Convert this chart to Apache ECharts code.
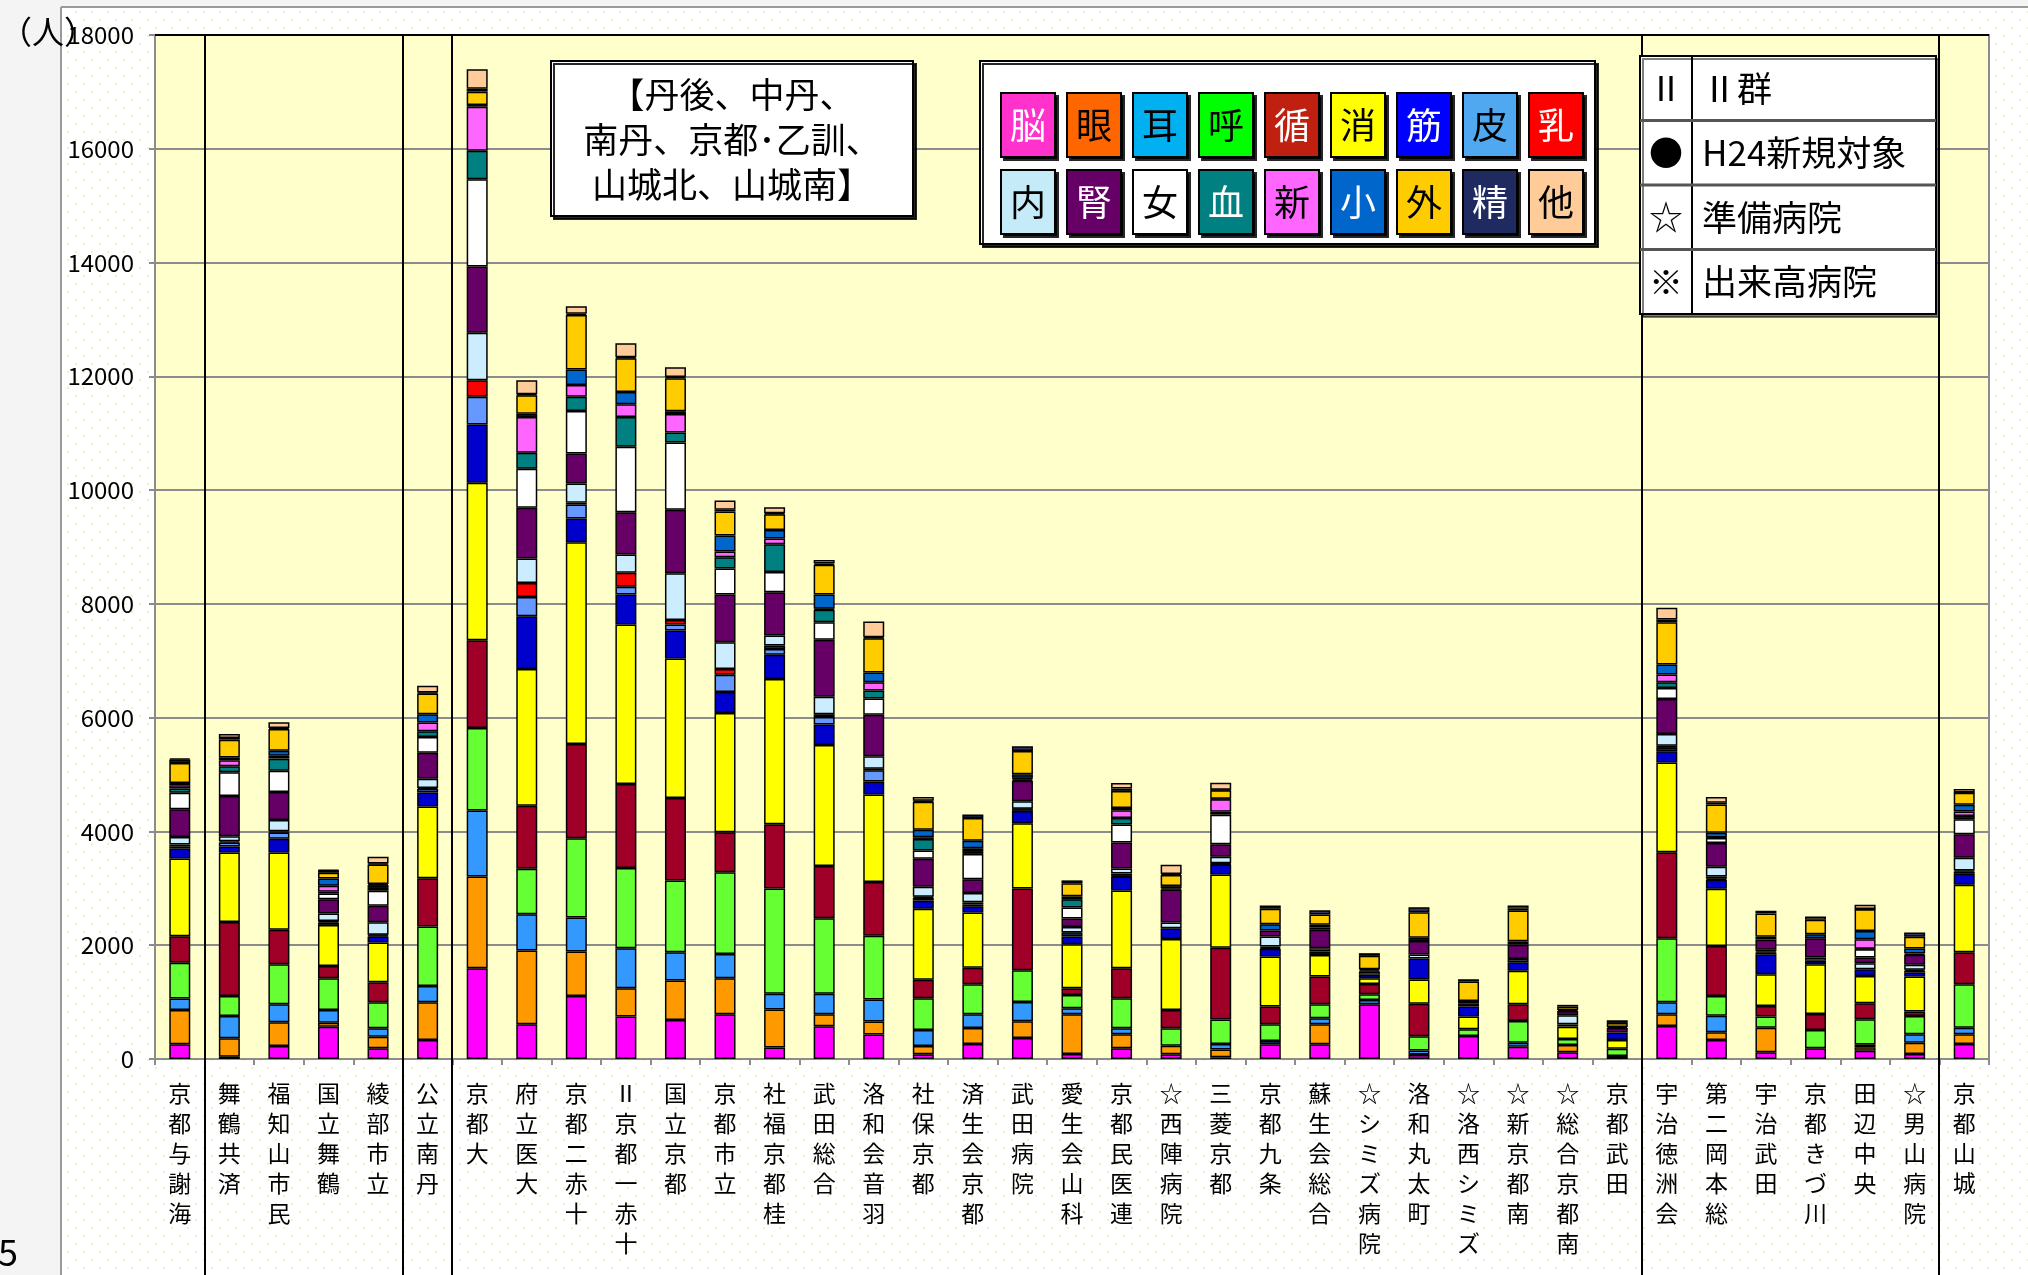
<!DOCTYPE html>
<html><head><meta charset="utf-8">
<script src="https://cdn.jsdelivr.net/npm/echarts@6/dist/echarts.min.js"></script>
<style>html,body{margin:0;padding:0;background:#f4f4f4;}#c{width:2028px;height:1275px;}</style>
</head><body><div id="c"></div>
<script>
const categories = ['京都与謝海','舞鶴共済','福知山市民','国立舞鶴','綾部市立','公立南丹','京都大','府立医大','京都二赤十','Ⅱ京都一赤十','国立京都','京都市立','社福京都桂','武田総合','洛和会音羽','社保京都','済生会京都','武田病院','愛生会山科','京都民医連','☆西陣病院','三菱京都','京都九条','蘇生会総合','☆シミズ病院','洛和丸太町','☆洛西シミズ','☆新京都南','☆総合京都南','京都武田','宇治徳洲会','第二岡本総','宇治武田','京都きづ川','田辺中央','☆男山病院','京都山城'];
const seriesNames = ['脳','眼','耳','呼','循','消','筋','皮','乳','内','腎','女','血','新','小','外','精','他'];
const yTicks = [0,2000,4000,6000,8000,10000,12000,14000,16000,18000];

const brain  = [260,40,229,569,188,334,1595,610,1108,745,686,786,203,576,432,85,262,367,88,188,82,30,258,258,962,70,405,217,117,53,581,334,117,188,147,88,264];
const eye    = [600,323,416,70,205,663,1613,1296,780,499,692,633,668,210,229,144,282,295,698,246,152,135,0,352,0,10,0,0,129,0,205,135,434,0,60,199,170];
const ear    = [205,393,317,223,147,287,1161,639,598,704,499,428,275,360,386,282,242,340,106,106,0,100,59,106,76,70,0,70,0,0,211,293,0,0,50,147,117];
const resp   = [628,352,704,557,457,1044,1449,798,1396,1408,1261,1437,1853,1329,1120,557,530,557,235,528,305,428,293,246,100,252,117,381,106,129,1126,346,194,323,440,323,762];
const circ   = [463,1302,604,217,352,850,1542,1108,1654,1478,1449,704,1126,917,943,327,288,1440,117,528,323,1261,311,487,182,569,0,293,0,0,1513,880,188,282,282,76,563];
const dige   = [1367,1220,1361,721,698,1261,2769,2405,3548,2803,2452,2094,2553,2128,1539,1244,969,1146,774,1367,1249,1290,880,381,100,428,223,592,217,152,1578,1003,557,874,481,616,1185];
const musc   = [176,106,240,40,106,246,1026,927,416,528,493,369,426,360,229,144,111,216,135,246,188,176,135,59,59,369,176,147,40,130,194,158,352,60,117,70,194];
const skin   = [40,70,111,20,20,59,487,340,246,135,106,305,105,131,196,50,30,30,59,10,0,10,20,0,0,0,0,0,0,0,60,20,30,0,0,30,40];
const breast = [30,20,20,10,10,20,287,246,30,246,80,100,60,50,30,20,40,10,10,40,0,10,20,0,0,0,0,0,0,0,40,40,20,0,0,20,20];
const intern = [135,88,199,129,223,164,839,428,340,322,821,469,177,308,216,177,164,131,100,88,100,117,176,59,59,70,0,59,158,0,205,170,30,57,106,88,223];
const kidney = [487,710,493,252,287,457,1161,891,528,745,1114,839,759,1002,733,491,242,360,147,457,580,217,106,323,20,235,60,250,76,80,616,416,176,340,100,176,411];
const women  = [287,416,375,100,264,276,1537,686,745,1150,1185,457,354,308,282,144,445,20,194,317,20,520,0,38,0,0,0,30,0,0,194,90,0,0,147,20,264];
const blood  = [76,106,211,30,50,100,499,282,252,522,176,200,491,216,144,203,50,20,147,117,0,50,0,0,0,0,0,0,0,0,100,10,0,0,10,0,59];
const neonat = [59,106,50,106,50,152,774,628,205,223,323,100,98,20,144,30,50,10,10,135,0,220,0,0,0,0,0,0,0,0,135,0,0,0,164,0,80];
const child  = [40,50,88,129,20,147,30,60,276,217,50,282,151,249,170,131,131,65,40,40,40,10,111,50,20,60,40,30,20,20,176,80,50,70,147,90,117];
const surg   = [352,311,381,100,340,364,235,323,956,592,581,422,275,524,602,491,400,406,230,300,194,150,270,180,235,446,340,540,59,70,745,499,411,252,381,205,210];
const psych  = [59,30,20,40,20,20,50,20,20,20,20,30,20,20,20,20,60,85,50,40,20,10,59,76,47,90,41,30,30,47,47,30,47,0,5,76,5];
const other  = [20,70,100,10,117,117,346,246,135,246,170,164,105,65,275,65,0,0,0,100,160,120,0,0,0,0,0,59,0,0,205,100,0,59,76,0,64];

const seriesValues = [brain,eye,ear,resp,circ,dige,musc,skin,breast,intern,kidney,women,blood,neonat,child,surg,psych,other];
const barColors = ['#FF00FF','#FF9900','#3399FF','#66FF33','#A00028','#FFFF00','#0000CC','#6699FF','#FF0000','#CCECFF','#660066','#FFFFFF','#008080','#FF66FF','#0066CC','#FFCC00','#333366','#FFCC99'];
const legendBg = ['#FF33CC','#FF6600','#00B0F0','#00FF00','#C0200F','#FFFF00','#0000FF','#4FA8F0','#FF0000','#C5EAF8','#660066','#FFFFFF','#008080','#FF66FF','#0066CC','#FFCC00','#1F2A60','#FFCC99'];
const legendFg = ['#fff','#000','#000','#000','#fff','#000','#fff','#000','#fff','#000','#fff','#000','#fff','#000','#fff','#000','#fff','#000'];

const FONT = '"Noto Sans CJK JP", "Noto Sans", sans-serif';

// dotted background pattern
const pc = document.createElement('canvas');
pc.width = 16; pc.height = 16;
const pctx = pc.getContext('2d');
pctx.fillStyle = '#FFFFFF'; pctx.fillRect(0,0,16,16);
pctx.fillStyle = '#F1F1C4';
pctx.fillRect(3,3,2,2); pctx.fillRect(11,11,2,2);

const rich = {};
seriesNames.forEach((n, i) => {
  rich['k' + i] = {
    fontFamily: FONT, fontSize: 36, color: legendFg[i],
    backgroundColor: legendBg[i], borderColor: '#000', borderWidth: 2,
    width: 48, height: 60, lineHeight: 60, align: 'center', padding: [1, 2],
    shadowColor: 'rgba(0,0,0,0.85)', shadowOffsetX: 3, shadowOffsetY: 3
  };
});
function legendCfg(names, top) {
  return {
    data: names, left: 991, top: top, orient: 'horizontal', itemGap: 6,
    itemWidth: 0, itemHeight: 0, icon: 'rect', selectedMode: false, z: 20,
    formatter: name => '{k' + seriesNames.indexOf(name) + '|' + name + '}',
    textStyle: { rich: rich }
  };
}

const chart = echarts.init(document.getElementById('c'), null, { renderer: 'canvas' });
const option = {
  animation: false,
  backgroundColor: { image: pc, repeat: 'repeat' },
  grid: { left: 155, right: 39, top: 35, bottom: 216, containLabel: false, show: true, backgroundColor: '#FFFFCC', borderColor: '#8c8c8c', borderWidth: 2 },
  legend: [legendCfg(seriesNames.slice(0, 9), 87), legendCfg(seriesNames.slice(9), 164)],
  xAxis: {
    type: 'category', data: categories,
    axisLine: { show: true, lineStyle: { color: '#8c8c8c', width: 2 } },
    axisTick: { show: true, length: 6, lineStyle: { color: '#8c8c8c', width: 2 } },
    axisLabel: { interval: 0, color: '#000', fontFamily: FONT, fontSize: 23, lineHeight: 30, margin: 19,
      formatter: v => v.split('').join('\n') },
    splitLine: { show: false }
  },
  yAxis: {
    type: 'value', min: yTicks[0], max: yTicks[yTicks.length - 1], interval: 2000,
    axisLine: { show: true, lineStyle: { color: '#8c8c8c', width: 2 } },
    axisTick: { show: true, length: 6, lineStyle: { color: '#8c8c8c', width: 2 } },
    axisLabel: { color: '#000', fontFamily: FONT, fontSize: 24, margin: 21, formatter: v => String(v) },
    splitLine: { show: true, lineStyle: { color: '#8c8c8c', width: 2 } }
  },
  series: seriesNames.map((n, i) => ({
    name: n, type: 'bar', stack: 'total', barWidth: 21,
    data: seriesValues[i].map(v => v === 0 ? null : v),
    itemStyle: { color: barColors[i], borderColor: '#000', borderWidth: 1.5 },
    emphasis: { disabled: true }
  }))
};
chart.setOption(option);

// category boundaries for group separators
const cx = i => chart.convertToPixel({ xAxisIndex: 0 }, categories[i]);
const boundary = i => (cx(i - 1) + cx(i)) / 2;
const sepIdx = [1, 5, 6, 30, 36];
const plotTop = chart.convertToPixel({ yAxisIndex: 0 }, yTicks[yTicks.length - 1]);
const plotLeft = cx(0) - (cx(1) - cx(0)) / 2;
const plotRight = cx(categories.length - 1) + (cx(1) - cx(0)) / 2;

const g = [];
// page margins
g.push({ type: 'rect', shape: { x: 0, y: 0, width: 61, height: 1275 }, style: { fill: '#F4F4F4' }, silent: true, z: 1 });
g.push({ type: 'rect', shape: { x: 0, y: 0, width: 2028, height: 7 }, style: { fill: '#F4F4F4' }, silent: true, z: 1 });
g.push({ type: 'line', shape: { x1: 61, y1: 7, x2: 61, y2: 1275 }, style: { stroke: '#9a9a9a', lineWidth: 2 }, silent: true, z: 1 });
g.push({ type: 'line', shape: { x1: 61, y1: 7, x2: 2028, y2: 7 }, style: { stroke: '#9a9a9a', lineWidth: 2 }, silent: true, z: 1 });
// plot top border
g.push({ type: 'line', shape: { x1: plotLeft, y1: plotTop, x2: plotRight, y2: plotTop }, style: { stroke: '#000', lineWidth: 2 }, silent: true, z: 5 });
// separators
sepIdx.forEach(i => {
  const x = Math.round(boundary(i));
  g.push({ type: 'line', shape: { x1: x, y1: plotTop, x2: x, y2: 1275 }, style: { stroke: '#000', lineWidth: 2 }, silent: true, z: 6 });
});
// region text box
g.push({ type: 'rect', shape: { x: 551, y: 61, width: 362, height: 155 }, style: { fill: '#fff', stroke: '#000', lineWidth: 2, shadowColor: 'rgba(0,0,0,0.85)', shadowOffsetX: 3, shadowOffsetY: 3 }, silent: true, z: 7 });
g.push({ type: 'text', x: 732, y: 140, style: { text: '【丹後、中丹、\n南丹、京都･乙訓、\n山城北、山城南】', font: '35px ' + FONT, fill: '#000', align: 'center', verticalAlign: 'middle', lineHeight: 45 }, silent: true, z: 8 });
// legend box
g.push({ type: 'rect', shape: { x: 980, y: 61, width: 615, height: 183 }, style: { fill: '#fff', stroke: '#000', lineWidth: 2, shadowColor: 'rgba(0,0,0,0.85)', shadowOffsetX: 3, shadowOffsetY: 3 }, silent: true, z: 7 });
// note table
const tx = 1640, ty = 56, tw = 296, rh = 64.5;
g.push({ type: 'rect', shape: { x: tx, y: ty, width: tw, height: rh * 4 }, style: { fill: '#fff', stroke: '#000', lineWidth: 2, shadowColor: 'rgba(0,0,0,0.5)', shadowOffsetX: 3, shadowOffsetY: 3 }, silent: true, z: 7 });
g.push({ type: 'line', shape: { x1: tx + 52, y1: ty, x2: tx + 52, y2: ty + rh * 4 }, style: { stroke: '#000', lineWidth: 2 }, silent: true, z: 8 });
const notes = [['Ⅱ', 'Ⅱ群'], ['●', 'H24新規対象'], ['☆', '準備病院'], ['※', '出来高病院']];
notes.forEach((r, k) => {
  if (k > 0) g.push({ type: 'line', shape: { x1: tx, y1: ty + rh * k, x2: tx + tw, y2: ty + rh * k }, style: { stroke: '#555', lineWidth: 3 }, silent: true, z: 8 });
  const cy = ty + rh * k + rh / 2;
  g.push({ type: 'text', x: tx + 26, y: cy, style: { text: r[0], font: '34px ' + FONT, fill: '#000', align: 'center', verticalAlign: 'middle' }, silent: true, z: 9 });
  g.push({ type: 'text', x: tx + 62, y: cy, style: { text: r[1], font: '35px ' + FONT, fill: '#000', align: 'left', verticalAlign: 'middle' }, silent: true, z: 9 });
});
// unit label and page number
g.push({ type: 'text', x: 0, y: 32, style: { text: '（人）', font: '32px ' + FONT, fill: '#000', align: 'left', verticalAlign: 'middle' }, silent: true, z: 9 });
g.push({ type: 'text', x: -2, y: 1252, style: { text: '5', font: '36px ' + FONT, fill: '#000', align: 'left', verticalAlign: 'middle' }, silent: true, z: 9 });

chart.setOption({ graphic: g });
</script>
</body></html>
